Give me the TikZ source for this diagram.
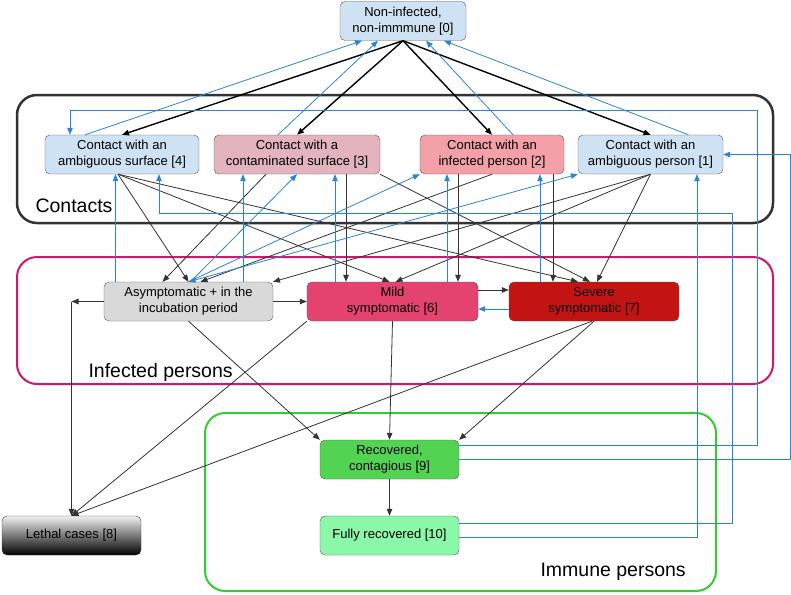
\documentclass[tikz,border=0pt]{standalone}
\usepackage{fontspec}
\setmainfont{Liberation Sans}
\usetikzlibrary{arrows.meta}
\definecolor{ambicolor}{HTML}{CFE2F3}
\definecolor{surfcolor}{HTML}{E3B3BE}
\definecolor{personcolor}{HTML}{F4A0A8}
\definecolor{asymcolor}{HTML}{D9D9D9}
\definecolor{mildcolor}{HTML}{E4426F}
\definecolor{severecolor}{HTML}{C41313}
\definecolor{recovcolor}{HTML}{52D452}
\definecolor{fullcolor}{HTML}{8AF8A8}
\definecolor{backcolor}{HTML}{2A84D8}
\definecolor{contactline}{HTML}{333333}
\definecolor{infectline}{HTML}{D4166C}
\definecolor{immuneline}{HTML}{33CC33}

\begin{document}
\begin{tikzpicture}[x=1pt,y=-1pt,
		state/.style={draw=black!65, rounded corners=5pt, align=center, inner sep=2pt,
			minimum height=39pt, font=\fontsize{13}{16}\selectfont},
		flow/.style={-{Triangle[length=7pt,width=5.5pt]}, black!80, line width=0.8pt},
		back/.style={-{Triangle[length=7pt,width=5.5pt]}, backcolor, line width=0.8pt},
		group/.style={rounded corners=20pt, line width=2pt},
		grouplabel/.style={anchor=base west, font=\fontsize{19.5}{22}\selectfont}]
		\useasboundingbox (0,0) rectangle (791,594);

		\draw[group, draw=contactline, line width=2.5pt] (17,95) rectangle (773,223);
		\draw[group, draw=infectline] (17,257) rectangle (773,384);
		\draw[group, draw=immuneline] (205,413) rectangle (716,591);
		\node[grouplabel] (contacts) at (32,212) {Contacts};
		\node[grouplabel] (infected) at (85,377) {Infected persons};
		\node[grouplabel] (immune) at (537,576) {Immune persons};

		\node[state, fill=ambicolor, minimum width=126pt] (n0) at (403,21) {Non-infected,\\non-immmune [0]};
		\node[state, fill=ambicolor, minimum width=154pt] (n4) at (122,154.5) {Contact with an\\ambiguous surface [4]};
		\node[state, fill=surfcolor, minimum width=166pt] (n3) at (297,154.5) {Contact with a\\contaminated surface [3]};
		\node[state, fill=personcolor, minimum width=144pt] (n2) at (492,154.5) {Contact with an\\infected person [2]};
		\node[state, fill=ambicolor, minimum width=145pt] (n1) at (650.5,154.5) {Contact with an\\ambiguous person [1]};
		\node[state, fill=asymcolor, minimum width=169pt] (n5) at (188.5,301.5) {Asymptomatic + in the\\incubation period};
		\node[state, fill=mildcolor, minimum width=171pt] (n6) at (392.5,301.5) {Mild\\symptomatic [6]};
		\node[state, fill=severecolor, minimum width=170pt] (n7) at (594,301.5) {Severe\\symptomatic [7]};
		\node[state, fill=recovcolor, minimum width=139pt] (n9) at (389.5,459.5) {Recovered,\\contagious [9]};
		\node[state, fill=fullcolor, minimum width=139pt] (n10) at (389.5,535.5) {Fully recovered [10]};
		\node[state, draw=black!75, top color=white!94!black, bottom color=black, minimum width=139pt] (n8) at (71.5,535.5) {Lethal cases [8]};
		\coordinate (c5) at (n5.west -| n8.north);

		\foreach \dst in {n4,n3,n2,n1}
			\draw[flow, black, line width=1.4pt] (n0.south) -- (\dst.north);
		\foreach \src/\sx/\dx in {n4/-37/-41, n3/-19/-25, n2/21/23, n1/38/41}
			\draw[back] ([xshift=\sx pt]\src.north) -- ([xshift=\dx pt]n0.south);

		\foreach \src/\sx/\dst/\dx in {n4/-4/n5/0, n4/-4/n6/-3, n4/-4/n7/-16, n3/-31/n5/-26, n3/83/n7/-4,
			n2/0/n5/12, n1/0/n5/84.5, n1/0/n6/3, n1/0/n7/3}
			\draw[flow] ([xshift=\sx pt]\src.south) -- ([xshift=\dx pt]\dst.north);
		\foreach \src/\sx/\dst in {n3/49/n6, n2/-34/n6, n2/61/n7}
			\draw[flow] ([xshift=\sx pt]\src.south) -- ([xshift=\sx pt]\src.south |- \dst.north);
		\foreach \src/\sx/\dst in {n5/-73/n4, n5/54.5/n3, n6/-57.5/n3, n6/54.5/n2, n7/-54/n2}
			\draw[back] ([xshift=\sx pt]\src.north) -- ([xshift=\sx pt]\src.north |- \dst.south);
		\draw[back] ([xshift=2pt]n5.north) -- (n3.south);
		\draw[back] (n5.north) -- (n2.south west);
		\draw[back, {Triangle[length=7pt,width=5.5pt]}-{Triangle[length=7pt,width=5.5pt]}] (n5.north) -- (n1.south west);

		\draw[flow] (n5.east) -- (n6.west);
		\draw[flow] ([yshift=11.5pt]n6.east) -- ([yshift=11.5pt]n7.west);
		\draw[back] ([yshift=-7.5pt]n7.west) -- ([yshift=-7.5pt]n6.east);
		\draw[flow] (n5.west) -- (c5);
		\draw[flow] (c5) -- (n8.north);
		\draw[flow] (n6.south west) -- (n8.north);
		\draw[flow] ([xshift=-2pt]n7.south) -- (n8.north);
		\draw[flow] (n5.south) -- (n9.north west);
		\draw[flow] (n6.south) -- (n9.north);
		\draw[flow] (n7.south) -- (n9.north east);
		\draw[flow] (n9.south) -- (n10.north);

		\draw[back] ([yshift=14.5pt]n9.east) -| (757,110) -| ([xshift=-52pt]n4.north);
		\draw[back] (n9.east) -- (790,459.5) |- (n1.east);
		\draw[back] ([yshift=12.5pt]n10.east) -| (732,213) -| ([xshift=37pt]n4.south);
		\draw[back] ([yshift=-1.5pt]n10.east) -| ([xshift=46.5pt]n1.south);
	\end{tikzpicture}
\end{document}
